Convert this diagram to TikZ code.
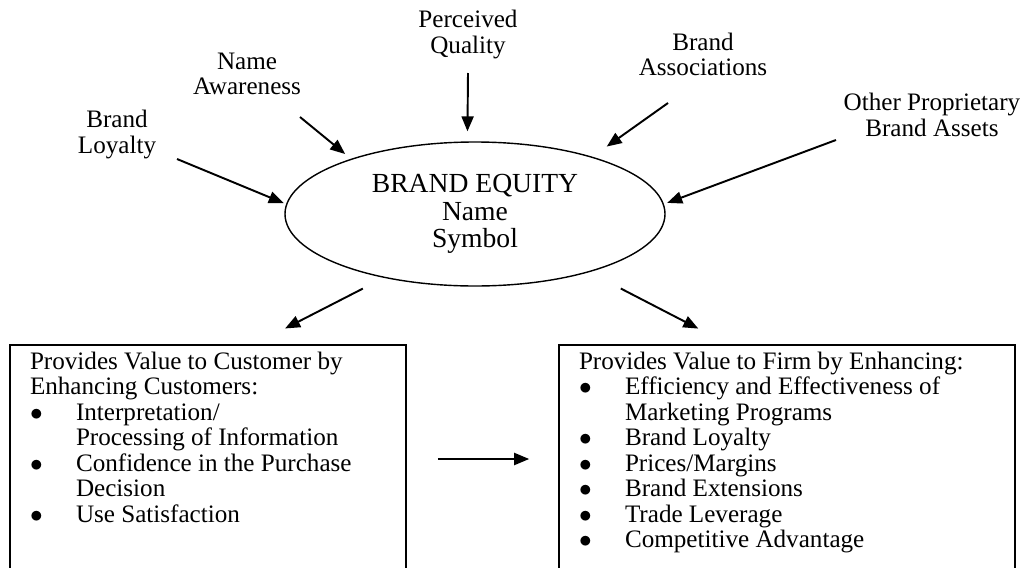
\documentclass[tikz,border=0pt]{standalone}
\usepackage{fontspec}
\setmainfont{Liberation Serif}
\usetikzlibrary{arrows.meta,shapes.geometric}

\newcommand{\bitem}[1]{\makebox[0.92cm][l]{$\bullet$}#1}
\newcommand{\bcont}[1]{\hspace*{0.92cm}#1}

\begin{document}
\begin{tikzpicture}[
    lbl/.style={align=center, inner sep=0pt, font=\fontsize{14.3}{14.5}\selectfont},
    valbox/.style={draw, line width=0.9pt, inner xsep=0.4cm, inner ysep=0.14cm, font=\fontsize{14.3}{14.5}\selectfont},
    feed/.style={-{Triangle[length=0.3cm,width=0.24cm]}, line width=1.1pt}
]
\useasboundingbox (0,0) rectangle (20.46,-11.34);

% Brand equity ellipse
\node[ellipse, draw, line width=0.8pt, minimum width=7.6cm, minimum height=2.88cm, inner sep=0pt, align=center, font=\fontsize{15.7}{15.5}\selectfont] (equity) at (9.5,-4.28) {BRAND EQUITY\\Name\\Symbol};

% Asset labels
\node[lbl] (loyalty) at (2.34,-2.69) {Brand\\Loyalty};
\node[lbl] (aware) at (4.94,-1.48) {Name\\Awareness};
\node[lbl] (quality) at (9.36,-0.69) {Perceived\\Quality};
\node[lbl] (assoc) at (14.06,-1.09) {Brand\\Associations};
\node[lbl] (other) at (18.64,-2.30) {Other Proprietary\\Brand Assets};

% Arrow tails
\coordinate (loyalty-t) at (3.54,-3.18);
\coordinate (aware-t) at (6.00,-2.34);
\coordinate (quality-t) at (9.36,-1.46);
\coordinate (assoc-t) at (13.36,-2.06);
\coordinate (other-t) at (16.72,-2.80);

% Value boxes
\node[valbox] (cust) at (4.16,-9.18) {\begin{minipage}[t][4.28cm][t]{7.12cm}
Provides Value to Customer by\\
Enhancing Customers:\\
\bitem{Interpretation/}\\
\bcont{Processing of Information}\\
\bitem{Confidence in the Purchase}\\
\bcont{Decision}\\
\bitem{Use Satisfaction}
\end{minipage}};

\node[valbox] (firm) at (15.74,-9.18) {\begin{minipage}[t][4.28cm][t]{8.32cm}
Provides Value to Firm by Enhancing:\\
\bitem{Efficiency and Effectiveness of}\\
\bcont{Marketing Programs}\\
\bitem{Brand Loyalty}\\
\bitem{Prices/Margins}\\
\bitem{Brand Extensions}\\
\bitem{Trade Leverage}\\
\bitem{Competitive Advantage}
\end{minipage}};

% Arrows into brand equity
\draw[feed, shorten >=0.05cm] (loyalty-t) -- (equity.177);
\draw[feed, shorten >=0.15cm] (aware-t) -- (equity.156);
\draw[feed, shorten >=0.2cm] (quality-t) -- (equity.96);
\draw[feed, shorten >=0.35cm] (assoc-t) -- (equity.26);
\draw[feed, shorten >=0.07cm] (other-t) -- (equity.3);

% Arrows out of brand equity
\draw[feed, shorten <=0.47cm, shorten >=0.69cm] (equity.215) -- (cust.68);
\draw[feed, shorten <=0.71cm, shorten >=0.68cm] (equity.333) -- (firm.117);
\draw[feed, shorten <=0.62cm, shorten >=0.58cm] (cust) -- (firm);
\end{tikzpicture}
\end{document}
